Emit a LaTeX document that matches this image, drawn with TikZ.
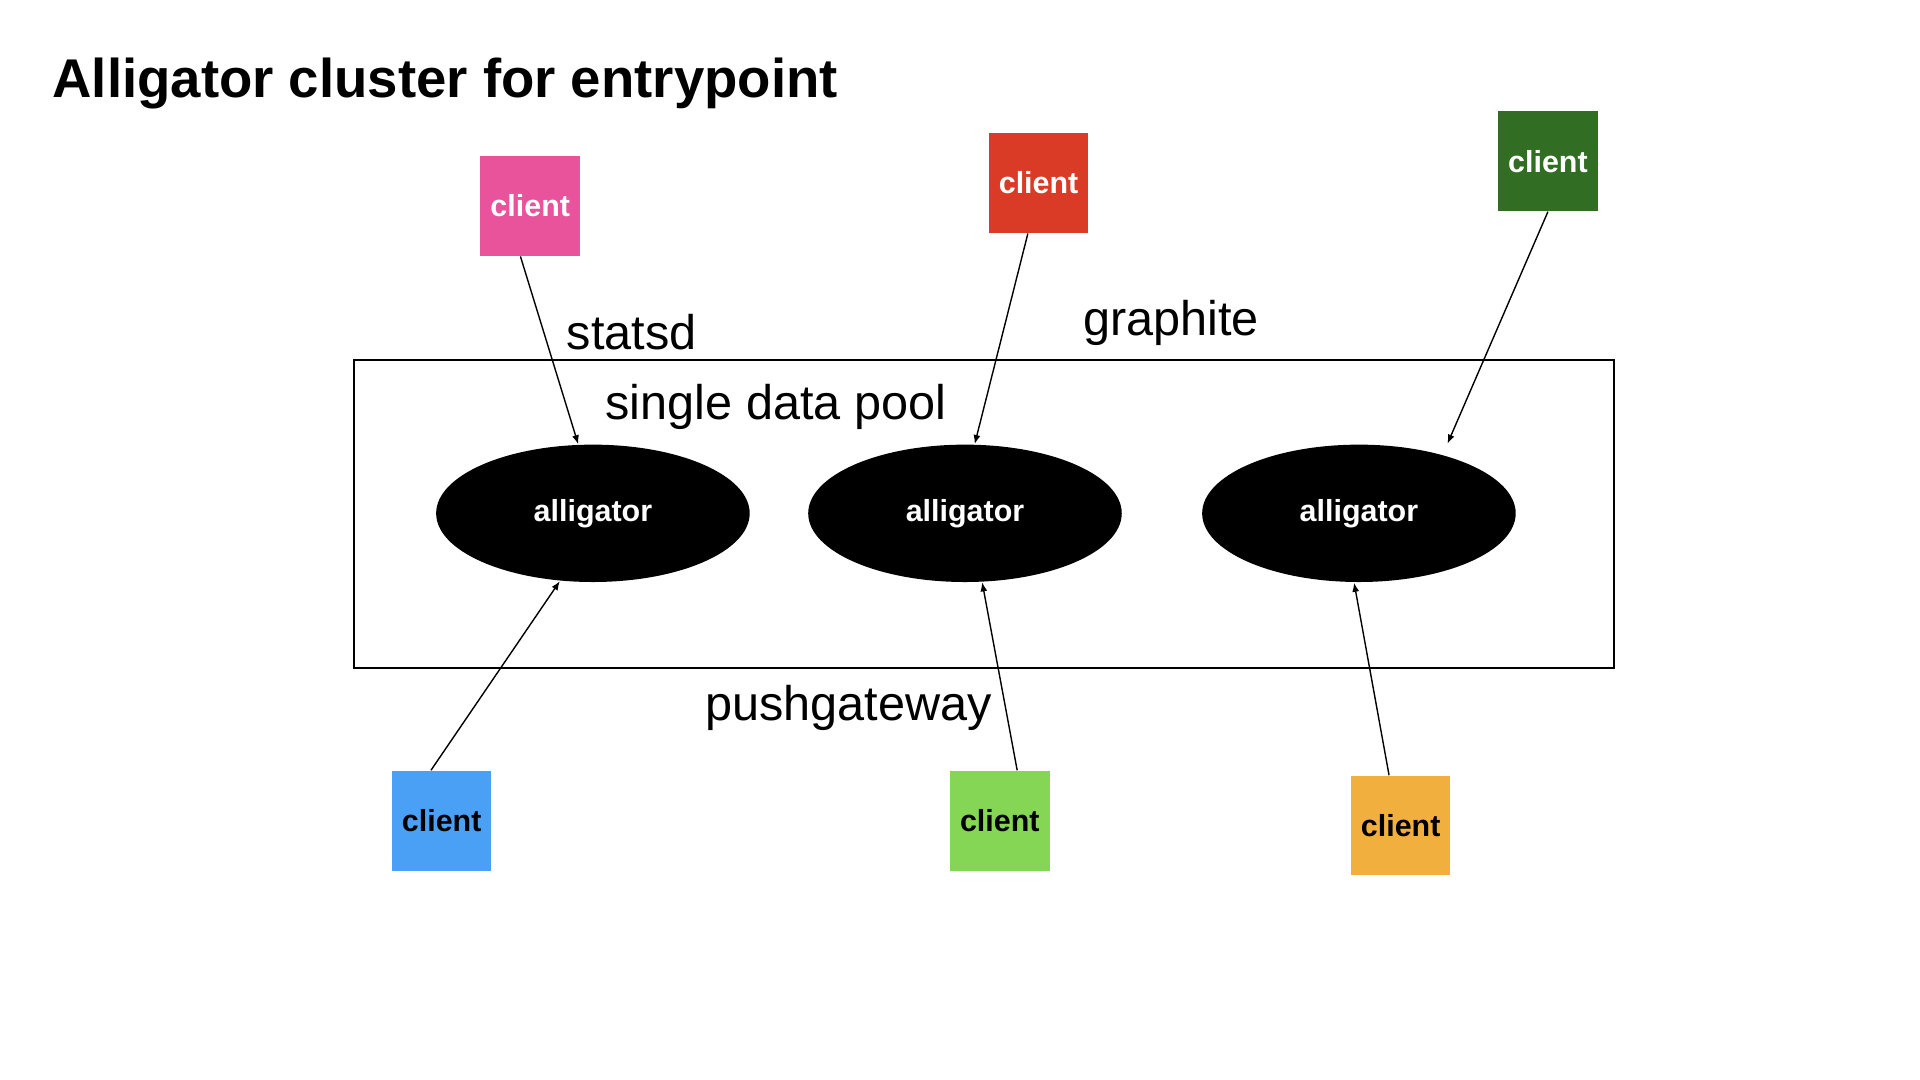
\documentclass[tikz,border=0pt]{standalone}
\usepackage{fontspec}
\setmainfont{Liberation Sans}
\usetikzlibrary{shapes.geometric,arrows.meta}

\definecolor{pinkclient}{RGB}{233,83,155}
\definecolor{redclient}{RGB}{218,59,39}
\definecolor{pineclient}{RGB}{49,110,35}
\definecolor{blueclient}{RGB}{74,160,245}
\definecolor{limeclient}{RGB}{132,214,84}
\definecolor{amberclient}{RGB}{241,176,62}

\begin{document}
\begin{tikzpicture}[x=0.01cm,y=-0.01cm,
    client/.style ={rectangle, inner sep = 0pt, minimum size=1cm, font=\fontsize{8.7}{10}\selectfont\bfseries},
    alligator/.style ={ellipse, fill=black, text=white, inner sep = 0pt, minimum width=3.15cm, minimum height=1.38cm, font=\fontsize{8.7}{10}\selectfont\bfseries},
    proto/.style ={anchor=base west, inner sep = 0pt, font=\fontsize{13.9}{16}\selectfont},
    pool/.style ={rectangle, draw, line width=0.6pt, inner sep = 0pt, minimum width=12.66cm, minimum height=3.09cm},
    feed/.style ={line width=0.4pt, -{Latex[length=2.6pt,width=2pt]}}]
   \useasboundingbox (0,0) rectangle (1930,1085);
   \node[proto, font=\fontsize{15.6}{18}\selectfont\bfseries] (title) at (52,98) {Alligator cluster for entrypoint};
   \node[pool] (pool) at (989,516.5) {};
   \node[proto] (statsd) at (569,351) {statsd};
   \node[proto] (graphite) at (1088,337) {graphite};
   \node[proto] (single) at (608,422) {single data pool};
   \node[proto] (push) at (708,724) {pushgateway};
   \node[alligator] (a1) at (596,516) {alligator};
   \node[alligator] (a2) at (970,516) {alligator};
   \node[alligator] (a3) at (1366,516) {alligator};
   \node[client, fill=pinkclient, text=white] (c1) at (533,207) {client};
   \node[client, fill=redclient, text=white] (c2) at (1044,184) {client};
   \node[client, fill=pineclient, text=white] (c3) at (1556,162) {client};
   \node[client, fill=blueclient] (c4) at (444,825) {client};
   \node[client, fill=limeclient] (c5) at (1005,825) {client};
   \node[client, fill=amberclient] (c6) at (1408,830) {client};
   \coordinate (g3) at (1455,446);
   \draw[feed] (c1.259) to (a1.102);
   \draw[feed] (c2.258) to (a2.82);
   \draw[feed] (c3.south) to (g3);
   \draw[feed] (c4.102) to (a1.244);
   \draw[feed] (c5.71) to (a2.284);
   \draw[feed] (c6.103) to (a3.266);
 \end{tikzpicture}
\end{document}
